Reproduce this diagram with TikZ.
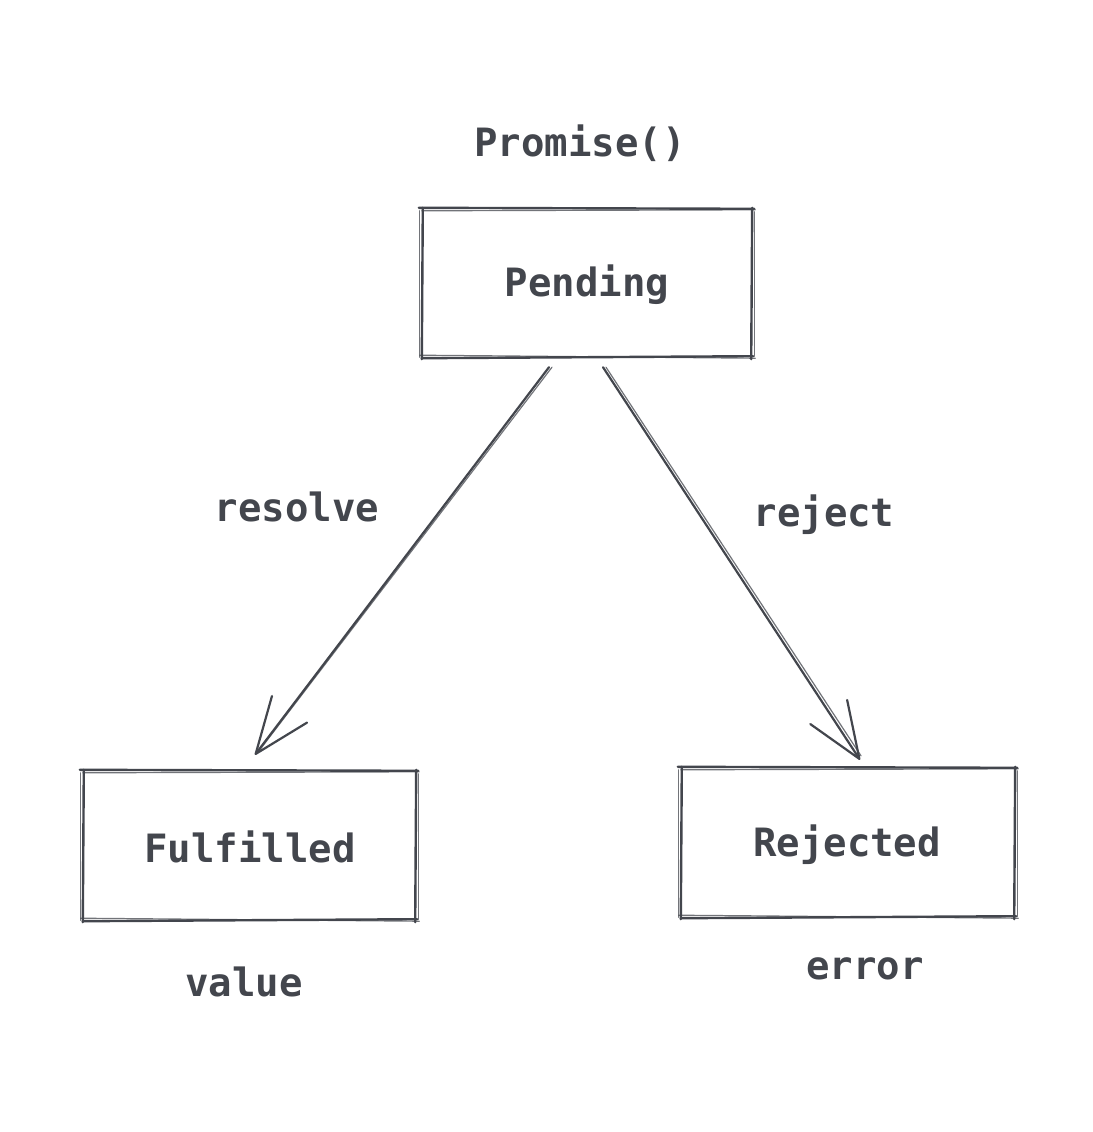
\documentclass[tikz,border=0pt]{standalone}
\usepackage{fontspec}
\setmonofont{DejaVu Sans Mono}
\usetikzlibrary{arrows.meta}
\definecolor{ink}{HTML}{43464D}
\tikzset{
  lbl/.style={text=ink,font=\ttfamily\bfseries\fontsize{39}{41}\selectfont,inner sep=0pt},
  state/.style={draw=none,minimum width=#1,inner sep=0pt},
  edgeA/.style={draw=ink,line width=2.4pt,line cap=round},
  edgeB/.style={draw=ink,line width=1.2pt,line cap=round,opacity=0.75},
  arr/.style={draw=ink,line width=2.2pt,line cap=round,-{Straight Barb[length=56pt,width=44pt,round]}},
}
\newcommand\skbox[1]{%
  % top
  \draw[edgeA] ([shift={(-3,-1)}]#1.north west) -- ([shift={(2,0)}]#1.north east);
  \draw[edgeB] ([shift={(0,2)}]#1.north west) -- ([shift={(3,1)}]#1.north east);
  % bottom
  \draw[edgeA] ([shift={(0,1)}]#1.south west) -- ([shift={(1,-1)}]#1.south east);
  \draw[edgeB] ([shift={(-2,-2)}]#1.south west) -- ([shift={(3,1)}]#1.south east);
  % left
  \draw[edgeA] ([shift={(1,-1)}]#1.north west) -- ([shift={(0,2)}]#1.south west);
  \draw[edgeB] ([shift={(-2,2)}]#1.north west) -- ([shift={(-2,0)}]#1.south west);
  % right
  \draw[edgeA] ([shift={(0,-1)}]#1.north east) -- ([shift={(-1,2)}]#1.south east);
  \draw[edgeB] ([shift={(2,3)}]#1.north east) -- ([shift={(2,-1)}]#1.south east);
}
\begin{document}
\begin{tikzpicture}[x=1pt,y=-1pt]
  \fill[white] (0,0) rectangle (1092,1132);
  \useasboundingbox (0,0) rectangle (1092,1132);
  \node[lbl] (prom) at (580,143) {Promise()};
  \node[state=330pt,minimum height=148pt] (pend) at (587,283) {};
  \node[lbl] (pendt) at (587,285) {Pending};
  \node[state=333pt,minimum height=149pt] (ful) at (249.5,845.5) {};
  \node[lbl] (fult) at (250,847) {Fulfilled};
  \node[state=334pt,minimum height=149pt] (rej) at (848,842.5) {};
  \node[lbl] (rejt) at (847,845) {Rejected};
  \node[lbl] (val) at (244,982) {value};
  \node[lbl] (err) at (865,969) {error};
  \node[lbl] (res) at (297,507) {resolve};
  \node[lbl] (rjt) at (824,515) {reject};
  \skbox{pend}
  \skbox{ful}
  \skbox{rej}
  \draw[arr] ([shift={(-38,10)}]pend.south) -- ([shift={(5.5,-16)}]ful.north);
  \draw[edgeB] ([shift={(-35,10)}]pend.south) -- ([shift={(8,-18)}]ful.north);
  \draw[arr] ([shift={(16,10)}]pend.south) -- ([shift={(12,-8)}]rej.north);
  \draw[edgeB] ([shift={(19,10)}]pend.south) -- ([shift={(13,-12)}]rej.north);
\end{tikzpicture}
\end{document}
